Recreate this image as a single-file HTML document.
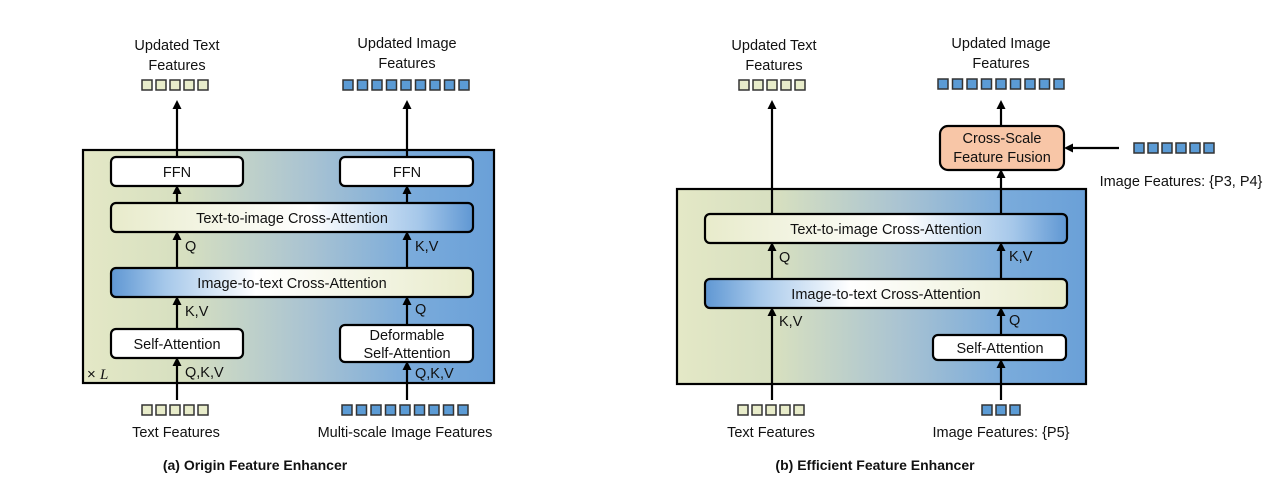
<!DOCTYPE html>
<html><head><meta charset="utf-8"><style>
body{margin:0;background:#fff;}
svg text{font-family:"Liberation Sans",sans-serif;font-size:14.5px;fill:#111;}
</style></head><body>
<svg width="1280" height="499" viewBox="0 0 1280 499" xmlns="http://www.w3.org/2000/svg">
<defs>
<linearGradient id="bg" x1="0" x2="1" y1="0" y2="0">
<stop offset="0" stop-color="#e4e8c6"/><stop offset="0.25" stop-color="#d6dfc0"/><stop offset="0.55" stop-color="#a9c3d2"/><stop offset="0.8" stop-color="#7aabdb"/><stop offset="1" stop-color="#6aa0d8"/></linearGradient>
<linearGradient id="t2i" x1="0" x2="1"><stop offset="0" stop-color="#e8ebcb"/><stop offset="0.55" stop-color="#ffffff"/><stop offset="0.85" stop-color="#a6c8ea"/><stop offset="1" stop-color="#5f97d3"/></linearGradient>
<linearGradient id="i2t" x1="0" x2="1"><stop offset="0" stop-color="#5f97d3"/><stop offset="0.15" stop-color="#a6c8ea"/><stop offset="0.4" stop-color="#ffffff"/><stop offset="1" stop-color="#e8ebcb"/></linearGradient>
<marker id="ah" markerWidth="9" markerHeight="9" refX="4" refY="4.5" orient="auto" markerUnits="userSpaceOnUse"><path d="M0,0 L9,4.5 L0,9 z" fill="#000"/></marker>
</defs>
<g stroke="#000" stroke-width="2.2">
<rect x="83" y="150" width="411" height="233" fill="url(#bg)"/>
<rect x="111" y="157" width="132" height="29" rx="5" fill="#fff"/>
<rect x="340" y="157" width="133" height="29" rx="5" fill="#fff"/>
<rect x="111" y="203" width="362" height="29" rx="5" fill="url(#t2i)"/>
<rect x="111" y="268" width="362" height="29" rx="5" fill="url(#i2t)"/>
<rect x="111" y="329" width="132" height="29" rx="5" fill="#fff"/>
<rect x="340" y="325" width="133" height="37" rx="5" fill="#fff"/>
<g marker-end="url(#ah)">
<line x1="177" y1="157" x2="177" y2="105"/><line x1="407" y1="157" x2="407" y2="105"/>
<line x1="177" y1="203" x2="177" y2="190"/><line x1="407" y1="203" x2="407" y2="190"/>
<line x1="177" y1="268" x2="177" y2="236"/><line x1="407" y1="268" x2="407" y2="236"/>
<line x1="177" y1="329" x2="177" y2="301"/><line x1="407" y1="325" x2="407" y2="301"/>
<line x1="177" y1="400" x2="177" y2="362"/><line x1="407" y1="400" x2="407" y2="366"/>
</g>
<rect x="677" y="189" width="409" height="195" fill="url(#bg)"/>
<rect x="705" y="214" width="362" height="29" rx="5" fill="url(#t2i)"/>
<rect x="705" y="279" width="362" height="29" rx="5" fill="url(#i2t)"/>
<rect x="933" y="335" width="133" height="25" rx="5" fill="#fff"/>
<rect x="940" y="126" width="124" height="44" rx="8" fill="#f8c6a7"/>
<g marker-end="url(#ah)">
<line x1="772" y1="214" x2="772" y2="105"/><line x1="1001" y1="126" x2="1001" y2="105"/>
<line x1="1001" y1="214" x2="1001" y2="174"/>
<line x1="772" y1="279" x2="772" y2="247"/><line x1="1001" y1="279" x2="1001" y2="247"/>
<line x1="772" y1="400" x2="772" y2="312"/><line x1="1001" y1="335" x2="1001" y2="312"/>
<line x1="1001" y1="400" x2="1001" y2="364"/>
<line x1="1119" y1="148" x2="1069" y2="148"/>
</g>
</g>
<g stroke="#333" stroke-width="1.5">
<g fill="#e8ecca">
<rect x="142" y="80" width="10" height="10"/><rect x="156" y="80" width="10" height="10"/><rect x="170" y="80" width="10" height="10"/><rect x="184" y="80" width="10" height="10"/><rect x="198" y="80" width="10" height="10"/>
<rect x="142" y="405" width="10" height="10"/><rect x="156" y="405" width="10" height="10"/><rect x="170" y="405" width="10" height="10"/><rect x="184" y="405" width="10" height="10"/><rect x="198" y="405" width="10" height="10"/>
<rect x="739" y="80" width="10" height="10"/><rect x="753" y="80" width="10" height="10"/><rect x="767" y="80" width="10" height="10"/><rect x="781" y="80" width="10" height="10"/><rect x="795" y="80" width="10" height="10"/>
<rect x="738" y="405" width="10" height="10"/><rect x="752" y="405" width="10" height="10"/><rect x="766" y="405" width="10" height="10"/><rect x="780" y="405" width="10" height="10"/><rect x="794" y="405" width="10" height="10"/>
</g>
<g fill="#5b9bd5">
<rect x="343" y="80" width="10" height="10"/><rect x="357.5" y="80" width="10" height="10"/><rect x="372" y="80" width="10" height="10"/><rect x="386.5" y="80" width="10" height="10"/><rect x="401" y="80" width="10" height="10"/><rect x="415.5" y="80" width="10" height="10"/><rect x="430" y="80" width="10" height="10"/><rect x="444.5" y="80" width="10" height="10"/><rect x="459" y="80" width="10" height="10"/>
<rect x="342" y="405" width="10" height="10"/><rect x="356.5" y="405" width="10" height="10"/><rect x="371" y="405" width="10" height="10"/><rect x="385.5" y="405" width="10" height="10"/><rect x="400" y="405" width="10" height="10"/><rect x="414.5" y="405" width="10" height="10"/><rect x="429" y="405" width="10" height="10"/><rect x="443.5" y="405" width="10" height="10"/><rect x="458" y="405" width="10" height="10"/>
<rect x="938" y="79" width="10" height="10"/><rect x="952.5" y="79" width="10" height="10"/><rect x="967" y="79" width="10" height="10"/><rect x="981.5" y="79" width="10" height="10"/><rect x="996" y="79" width="10" height="10"/><rect x="1010.5" y="79" width="10" height="10"/><rect x="1025" y="79" width="10" height="10"/><rect x="1039.5" y="79" width="10" height="10"/><rect x="1054" y="79" width="10" height="10"/>
<rect x="1134" y="143" width="10" height="10"/><rect x="1148" y="143" width="10" height="10"/><rect x="1162" y="143" width="10" height="10"/><rect x="1176" y="143" width="10" height="10"/><rect x="1190" y="143" width="10" height="10"/><rect x="1204" y="143" width="10" height="10"/>
<rect x="982" y="405" width="10" height="10"/><rect x="996" y="405" width="10" height="10"/><rect x="1010" y="405" width="10" height="10"/>
</g>
</g>
<g text-anchor="middle">
<text x="177" y="50">Updated Text</text><text x="177" y="70">Features</text>
<text x="407" y="48">Updated Image</text><text x="407" y="68">Features</text>
<text x="177" y="177">FFN</text><text x="407" y="177">FFN</text>
<text x="292" y="223">Text-to-image Cross-Attention</text>
<text x="292" y="288">Image-to-text Cross-Attention</text>
<text x="177" y="349">Self-Attention</text>
<text x="407" y="340">Deformable</text><text x="407" y="358">Self-Attention</text>
<text x="176" y="437">Text Features</text>
<text x="405" y="437">Multi-scale Image Features</text>
<text x="255" y="470" style="font-weight:bold;font-size:14px">(a) Origin Feature Enhancer</text>
<text x="774" y="50">Updated Text</text><text x="774" y="70">Features</text>
<text x="1001" y="48">Updated Image</text><text x="1001" y="68">Features</text>
<text x="1002" y="143">Cross-Scale</text><text x="1002" y="162">Feature Fusion</text>
<text x="886" y="234">Text-to-image Cross-Attention</text>
<text x="886" y="299">Image-to-text Cross-Attention</text>
<text x="1000" y="353">Self-Attention</text>
<text x="771" y="437">Text Features</text>
<text x="1001" y="437">Image Features: {P5}</text>
<text x="1181" y="186">Image Features: {P3, P4}</text>
<text x="875" y="470" style="font-weight:bold;font-size:14px">(b) Efficient Feature Enhancer</text>
</g>
<text x="185" y="251">Q</text><text x="415" y="251">K,V</text>
<text x="185" y="316">K,V</text><text x="415" y="314">Q</text>
<text x="185" y="377">Q,K,V</text><text x="415" y="378">Q,K,V</text>
<text x="87" y="379" style="font-size:15px">× <tspan style="font-family:'Liberation Serif',serif;font-style:italic">L</tspan></text>
<text x="779" y="262">Q</text><text x="1009" y="261">K,V</text>
<text x="779" y="326">K,V</text><text x="1009" y="325">Q</text>
</svg>
</body></html>
